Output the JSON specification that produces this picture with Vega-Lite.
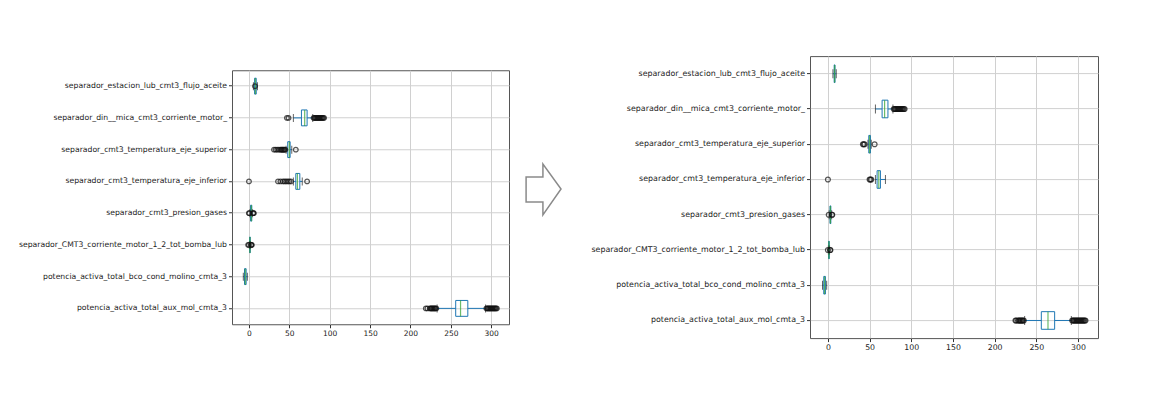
{
  "$schema": "https://vega.github.io/schema/vega-lite/v6.json",
  "autosize": {"type": "pad"},
  "padding": {"left": 15, "top": 55, "right": 5, "bottom": 5},
  "background": "white",
  "spacing": 4,
  "center": true,
  "config": {
    "font": "DejaVu Sans",
    "view": {"stroke": "#555", "strokeWidth": 1},
    "axis": {
      "labelColor": "#222",
      "tickColor": "#333",
      "tickSize": 3.5,
      "labelPadding": 2,
      "domain": false,
      "grid": true,
      "gridColor": "#d0d0d0",
      "gridWidth": 1,
      "title": null
    }
  },
  "datasets": {
    "left_stats": [
      {"variable": "separador_estacion_lub_cmt3_flujo_aceite", "lower": 5.5, "q1": 7, "median": 8, "q3": 9, "upper": 10.5},
      {"variable": "separador_din__mica_cmt3_corriente_motor_", "lower": 55, "q1": 65, "median": 69, "q3": 72, "upper": 79},
      {"variable": "separador_cmt3_temperatura_eje_superior", "lower": 46, "q1": 48, "median": 50, "q3": 51, "upper": 53},
      {"variable": "separador_cmt3_temperatura_eje_inferior", "lower": 55, "q1": 58, "median": 60, "q3": 63, "upper": 66},
      {"variable": "separador_cmt3_presion_gases", "lower": 1, "q1": 2, "median": 3, "q3": 3.5, "upper": 4.5},
      {"variable": "separador_CMT3_corriente_motor_1_2_tot_bomba_lub", "lower": 0.5, "q1": 1, "median": 1.2, "q3": 1.5, "upper": 2},
      {"variable": "potencia_activa_total_bco_cond_molino_cmta_3", "lower": -7, "q1": -5.5, "median": -4.5, "q3": -3.5, "upper": -2},
      {"variable": "potencia_activa_total_aux_mol_cmta_3", "lower": 233, "q1": 256, "median": 262, "q3": 271, "upper": 293}
    ],
    "left_out": [
      {"variable": "separador_estacion_lub_cmt3_flujo_aceite", "value": 7.5},
      {"variable": "separador_din__mica_cmt3_corriente_motor_", "value": 47},
      {"variable": "separador_din__mica_cmt3_corriente_motor_", "value": 49},
      {"variable": "separador_din__mica_cmt3_corriente_motor_", "value": 80},
      {"variable": "separador_din__mica_cmt3_corriente_motor_", "value": 81},
      {"variable": "separador_din__mica_cmt3_corriente_motor_", "value": 82},
      {"variable": "separador_din__mica_cmt3_corriente_motor_", "value": 83},
      {"variable": "separador_din__mica_cmt3_corriente_motor_", "value": 84},
      {"variable": "separador_din__mica_cmt3_corriente_motor_", "value": 85},
      {"variable": "separador_din__mica_cmt3_corriente_motor_", "value": 86},
      {"variable": "separador_din__mica_cmt3_corriente_motor_", "value": 87},
      {"variable": "separador_din__mica_cmt3_corriente_motor_", "value": 88},
      {"variable": "separador_din__mica_cmt3_corriente_motor_", "value": 89},
      {"variable": "separador_din__mica_cmt3_corriente_motor_", "value": 90},
      {"variable": "separador_din__mica_cmt3_corriente_motor_", "value": 91},
      {"variable": "separador_din__mica_cmt3_corriente_motor_", "value": 92},
      {"variable": "separador_din__mica_cmt3_corriente_motor_", "value": 93},
      {"variable": "separador_cmt3_temperatura_eje_superior", "value": 31},
      {"variable": "separador_cmt3_temperatura_eje_superior", "value": 33},
      {"variable": "separador_cmt3_temperatura_eje_superior", "value": 35},
      {"variable": "separador_cmt3_temperatura_eje_superior", "value": 37},
      {"variable": "separador_cmt3_temperatura_eje_superior", "value": 39},
      {"variable": "separador_cmt3_temperatura_eje_superior", "value": 40},
      {"variable": "separador_cmt3_temperatura_eje_superior", "value": 41},
      {"variable": "separador_cmt3_temperatura_eje_superior", "value": 42},
      {"variable": "separador_cmt3_temperatura_eje_superior", "value": 43},
      {"variable": "separador_cmt3_temperatura_eje_superior", "value": 44},
      {"variable": "separador_cmt3_temperatura_eje_superior", "value": 45},
      {"variable": "separador_cmt3_temperatura_eje_superior", "value": 58},
      {"variable": "separador_cmt3_temperatura_eje_inferior", "value": 0},
      {"variable": "separador_cmt3_temperatura_eje_inferior", "value": 36},
      {"variable": "separador_cmt3_temperatura_eje_inferior", "value": 39},
      {"variable": "separador_cmt3_temperatura_eje_inferior", "value": 42},
      {"variable": "separador_cmt3_temperatura_eje_inferior", "value": 44},
      {"variable": "separador_cmt3_temperatura_eje_inferior", "value": 46},
      {"variable": "separador_cmt3_temperatura_eje_inferior", "value": 48},
      {"variable": "separador_cmt3_temperatura_eje_inferior", "value": 50},
      {"variable": "separador_cmt3_temperatura_eje_inferior", "value": 52},
      {"variable": "separador_cmt3_temperatura_eje_inferior", "value": 72},
      {"variable": "separador_cmt3_presion_gases", "value": 0},
      {"variable": "separador_cmt3_presion_gases", "value": 0.5},
      {"variable": "separador_cmt3_presion_gases", "value": 5},
      {"variable": "separador_cmt3_presion_gases", "value": 5.5},
      {"variable": "separador_cmt3_presion_gases", "value": 6},
      {"variable": "separador_CMT3_corriente_motor_1_2_tot_bomba_lub", "value": -1},
      {"variable": "separador_CMT3_corriente_motor_1_2_tot_bomba_lub", "value": 0},
      {"variable": "separador_CMT3_corriente_motor_1_2_tot_bomba_lub", "value": 2.5},
      {"variable": "separador_CMT3_corriente_motor_1_2_tot_bomba_lub", "value": 3},
      {"variable": "separador_CMT3_corriente_motor_1_2_tot_bomba_lub", "value": 3.5},
      {"variable": "potencia_activa_total_aux_mol_cmta_3", "value": 219},
      {"variable": "potencia_activa_total_aux_mol_cmta_3", "value": 221},
      {"variable": "potencia_activa_total_aux_mol_cmta_3", "value": 224},
      {"variable": "potencia_activa_total_aux_mol_cmta_3", "value": 225},
      {"variable": "potencia_activa_total_aux_mol_cmta_3", "value": 226},
      {"variable": "potencia_activa_total_aux_mol_cmta_3", "value": 227},
      {"variable": "potencia_activa_total_aux_mol_cmta_3", "value": 228},
      {"variable": "potencia_activa_total_aux_mol_cmta_3", "value": 229},
      {"variable": "potencia_activa_total_aux_mol_cmta_3", "value": 230},
      {"variable": "potencia_activa_total_aux_mol_cmta_3", "value": 231},
      {"variable": "potencia_activa_total_aux_mol_cmta_3", "value": 232},
      {"variable": "potencia_activa_total_aux_mol_cmta_3", "value": 294},
      {"variable": "potencia_activa_total_aux_mol_cmta_3", "value": 295},
      {"variable": "potencia_activa_total_aux_mol_cmta_3", "value": 296},
      {"variable": "potencia_activa_total_aux_mol_cmta_3", "value": 297},
      {"variable": "potencia_activa_total_aux_mol_cmta_3", "value": 298},
      {"variable": "potencia_activa_total_aux_mol_cmta_3", "value": 299},
      {"variable": "potencia_activa_total_aux_mol_cmta_3", "value": 300},
      {"variable": "potencia_activa_total_aux_mol_cmta_3", "value": 301},
      {"variable": "potencia_activa_total_aux_mol_cmta_3", "value": 302},
      {"variable": "potencia_activa_total_aux_mol_cmta_3", "value": 303},
      {"variable": "potencia_activa_total_aux_mol_cmta_3", "value": 304},
      {"variable": "potencia_activa_total_aux_mol_cmta_3", "value": 305},
      {"variable": "potencia_activa_total_aux_mol_cmta_3", "value": 306},
      {"variable": "potencia_activa_total_aux_mol_cmta_3", "value": 307}
    ],
    "right_stats": [
      {"variable": "separador_estacion_lub_cmt3_flujo_aceite", "lower": 6, "q1": 7.5, "median": 8, "q3": 8.5, "upper": 10},
      {"variable": "separador_din__mica_cmt3_corriente_motor_", "lower": 57, "q1": 65, "median": 68, "q3": 72, "upper": 78},
      {"variable": "separador_cmt3_temperatura_eje_superior", "lower": 48, "q1": 49, "median": 50, "q3": 51, "upper": 52},
      {"variable": "separador_cmt3_temperatura_eje_inferior", "lower": 57, "q1": 59, "median": 61, "q3": 63, "upper": 69},
      {"variable": "separador_cmt3_presion_gases", "lower": 1.5, "q1": 2.5, "median": 3, "q3": 3.5, "upper": 4.5},
      {"variable": "separador_CMT3_corriente_motor_1_2_tot_bomba_lub", "lower": 0.5, "q1": 1, "median": 1.2, "q3": 1.5, "upper": 2},
      {"variable": "potencia_activa_total_bco_cond_molino_cmta_3", "lower": -6.5, "q1": -5, "median": -4, "q3": -3, "upper": -1.5},
      {"variable": "potencia_activa_total_aux_mol_cmta_3", "lower": 236, "q1": 256, "median": 264, "q3": 272, "upper": 292}
    ],
    "right_out": [
      {"variable": "separador_din__mica_cmt3_corriente_motor_", "value": 79},
      {"variable": "separador_din__mica_cmt3_corriente_motor_", "value": 80},
      {"variable": "separador_din__mica_cmt3_corriente_motor_", "value": 81},
      {"variable": "separador_din__mica_cmt3_corriente_motor_", "value": 82},
      {"variable": "separador_din__mica_cmt3_corriente_motor_", "value": 83},
      {"variable": "separador_din__mica_cmt3_corriente_motor_", "value": 84},
      {"variable": "separador_din__mica_cmt3_corriente_motor_", "value": 85},
      {"variable": "separador_din__mica_cmt3_corriente_motor_", "value": 86},
      {"variable": "separador_din__mica_cmt3_corriente_motor_", "value": 87},
      {"variable": "separador_din__mica_cmt3_corriente_motor_", "value": 88},
      {"variable": "separador_din__mica_cmt3_corriente_motor_", "value": 89},
      {"variable": "separador_din__mica_cmt3_corriente_motor_", "value": 90},
      {"variable": "separador_din__mica_cmt3_corriente_motor_", "value": 91},
      {"variable": "separador_din__mica_cmt3_corriente_motor_", "value": 92},
      {"variable": "separador_cmt3_temperatura_eje_superior", "value": 42},
      {"variable": "separador_cmt3_temperatura_eje_superior", "value": 43},
      {"variable": "separador_cmt3_temperatura_eje_superior", "value": 44},
      {"variable": "separador_cmt3_temperatura_eje_superior", "value": 56},
      {"variable": "separador_cmt3_temperatura_eje_inferior", "value": 0},
      {"variable": "separador_cmt3_temperatura_eje_inferior", "value": 50},
      {"variable": "separador_cmt3_temperatura_eje_inferior", "value": 51},
      {"variable": "separador_cmt3_temperatura_eje_inferior", "value": 52},
      {"variable": "separador_cmt3_presion_gases", "value": 1},
      {"variable": "separador_cmt3_presion_gases", "value": 4.8},
      {"variable": "separador_cmt3_presion_gases", "value": 5.2},
      {"variable": "separador_CMT3_corriente_motor_1_2_tot_bomba_lub", "value": 0},
      {"variable": "separador_CMT3_corriente_motor_1_2_tot_bomba_lub", "value": 2.5},
      {"variable": "separador_CMT3_corriente_motor_1_2_tot_bomba_lub", "value": 3},
      {"variable": "potencia_activa_total_aux_mol_cmta_3", "value": 225},
      {"variable": "potencia_activa_total_aux_mol_cmta_3", "value": 226},
      {"variable": "potencia_activa_total_aux_mol_cmta_3", "value": 228},
      {"variable": "potencia_activa_total_aux_mol_cmta_3", "value": 229},
      {"variable": "potencia_activa_total_aux_mol_cmta_3", "value": 230},
      {"variable": "potencia_activa_total_aux_mol_cmta_3", "value": 231},
      {"variable": "potencia_activa_total_aux_mol_cmta_3", "value": 232},
      {"variable": "potencia_activa_total_aux_mol_cmta_3", "value": 233},
      {"variable": "potencia_activa_total_aux_mol_cmta_3", "value": 234},
      {"variable": "potencia_activa_total_aux_mol_cmta_3", "value": 235},
      {"variable": "potencia_activa_total_aux_mol_cmta_3", "value": 293},
      {"variable": "potencia_activa_total_aux_mol_cmta_3", "value": 294},
      {"variable": "potencia_activa_total_aux_mol_cmta_3", "value": 295},
      {"variable": "potencia_activa_total_aux_mol_cmta_3", "value": 296},
      {"variable": "potencia_activa_total_aux_mol_cmta_3", "value": 297},
      {"variable": "potencia_activa_total_aux_mol_cmta_3", "value": 298},
      {"variable": "potencia_activa_total_aux_mol_cmta_3", "value": 299},
      {"variable": "potencia_activa_total_aux_mol_cmta_3", "value": 300},
      {"variable": "potencia_activa_total_aux_mol_cmta_3", "value": 301},
      {"variable": "potencia_activa_total_aux_mol_cmta_3", "value": 302},
      {"variable": "potencia_activa_total_aux_mol_cmta_3", "value": 303},
      {"variable": "potencia_activa_total_aux_mol_cmta_3", "value": 304},
      {"variable": "potencia_activa_total_aux_mol_cmta_3", "value": 305},
      {"variable": "potencia_activa_total_aux_mol_cmta_3", "value": 306},
      {"variable": "potencia_activa_total_aux_mol_cmta_3", "value": 307},
      {"variable": "potencia_activa_total_aux_mol_cmta_3", "value": 308},
      {"variable": "potencia_activa_total_aux_mol_cmta_3", "value": 309}
    ],
    "arrow": [{"symbol": "arrow"}]
  },
  "hconcat": [
    {
      "width": 277,
      "height": 254,
      "encoding": {
        "y": {
          "field": "variable", "type": "nominal",
          "scale": {"domain": ["separador_estacion_lub_cmt3_flujo_aceite", "separador_din__mica_cmt3_corriente_motor_", "separador_cmt3_temperatura_eje_superior", "separador_cmt3_temperatura_eje_inferior", "separador_cmt3_presion_gases", "separador_CMT3_corriente_motor_1_2_tot_bomba_lub", "potencia_activa_total_bco_cond_molino_cmta_3", "potencia_activa_total_aux_mol_cmta_3"], "paddingInner": 0, "paddingOuter": 0},
          "axis": {"bandPosition": 0.5, "grid": true, "labelFontSize": 7.7, "labelLimit": 0, "minExtent": 216, "maxExtent": 216}
        }
      },
      "layer": [
        {
          "data": {"name": "left_stats"},
          "mark": {"type": "rule", "color": "#1f77b4", "strokeWidth": 1},
          "encoding": {
            "x": {"field": "lower", "type": "quantitative", "scale": {"domain": [-21, 322], "nice": false, "zero": false}, "axis": {"values": [0, 50, 100, 150, 200, 250, 300], "labelFontSize": 7.5}},
            "x2": {"field": "q1"}
          }
        },
        {
          "data": {"name": "left_stats"},
          "mark": {"type": "rule", "color": "#1f77b4", "strokeWidth": 1},
          "encoding": {"x": {"field": "q3", "type": "quantitative"}, "x2": {"field": "upper"}}
        },
        {
          "data": {"name": "left_stats"},
          "mark": {"type": "bar", "fill": null, "fillOpacity": 0, "stroke": "#1f77b4", "strokeWidth": 1, "height": {"band": 0.5}},
          "encoding": {"x": {"field": "q1", "type": "quantitative"}, "x2": {"field": "q3"}}
        },
        {
          "data": {"name": "left_stats"},
          "mark": {"type": "tick", "orient": "vertical", "color": "#222", "size": 8, "thickness": 1},
          "encoding": {"x": {"field": "lower", "type": "quantitative"}}
        },
        {
          "data": {"name": "left_stats"},
          "mark": {"type": "tick", "orient": "vertical", "color": "#222", "size": 8, "thickness": 1},
          "encoding": {"x": {"field": "upper", "type": "quantitative"}}
        },
        {
          "data": {"name": "left_stats"},
          "mark": {"type": "tick", "orient": "vertical", "color": "#2ca02c", "size": 16, "thickness": 1.2},
          "encoding": {"x": {"field": "median", "type": "quantitative"}}
        },
        {
          "data": {"name": "left_out"},
          "mark": {"type": "point", "shape": "circle", "filled": false, "stroke": "#111", "strokeWidth": 1.2, "size": 22},
          "encoding": {"x": {"field": "value", "type": "quantitative"}}
        }
      ]
    },
    {
      "width": 66,
      "height": 50,
      "view": {"stroke": null},
      "data": {"name": "arrow"},
      "mark": {"type": "point", "shape": "M-0.82,-1.06 L-0.16,-1.06 L-0.16,-1.57 L0.55,-0.59 L-0.16,0.43 L-0.16,-0.08 L-0.82,-0.08 Z", "size": 2601, "filled": true, "fill": "white", "stroke": "#8a8a8a", "strokeWidth": 1.5, "opacity": 1},
      "encoding": {}
    },
    {
      "width": 288,
      "height": 282,
      "encoding": {
        "y": {
          "field": "variable", "type": "nominal",
          "scale": {"domain": ["separador_estacion_lub_cmt3_flujo_aceite", "separador_din__mica_cmt3_corriente_motor_", "separador_cmt3_temperatura_eje_superior", "separador_cmt3_temperatura_eje_inferior", "separador_cmt3_presion_gases", "separador_CMT3_corriente_motor_1_2_tot_bomba_lub", "potencia_activa_total_bco_cond_molino_cmta_3", "potencia_activa_total_aux_mol_cmta_3"], "paddingInner": 0, "paddingOuter": 0},
          "axis": {"bandPosition": 0.5, "grid": true, "labelFontSize": 7.9, "labelLimit": 0, "minExtent": 225, "maxExtent": 225}
        }
      },
      "layer": [
        {
          "data": {"name": "right_stats"},
          "mark": {"type": "rule", "color": "#1f77b4", "strokeWidth": 1},
          "encoding": {
            "x": {"field": "lower", "type": "quantitative", "scale": {"domain": [-21.5, 324], "nice": false, "zero": false}, "axis": {"values": [0, 50, 100, 150, 200, 250, 300], "labelFontSize": 7.8}},
            "x2": {"field": "q1"}
          }
        },
        {
          "data": {"name": "right_stats"},
          "mark": {"type": "rule", "color": "#1f77b4", "strokeWidth": 1},
          "encoding": {"x": {"field": "q3", "type": "quantitative"}, "x2": {"field": "upper"}}
        },
        {
          "data": {"name": "right_stats"},
          "mark": {"type": "bar", "fill": null, "fillOpacity": 0, "stroke": "#1f77b4", "strokeWidth": 1, "height": {"band": 0.5}},
          "encoding": {"x": {"field": "q1", "type": "quantitative"}, "x2": {"field": "q3"}}
        },
        {
          "data": {"name": "right_stats"},
          "mark": {"type": "tick", "orient": "vertical", "color": "#222", "size": 9, "thickness": 1},
          "encoding": {"x": {"field": "lower", "type": "quantitative"}}
        },
        {
          "data": {"name": "right_stats"},
          "mark": {"type": "tick", "orient": "vertical", "color": "#222", "size": 9, "thickness": 1},
          "encoding": {"x": {"field": "upper", "type": "quantitative"}}
        },
        {
          "data": {"name": "right_stats"},
          "mark": {"type": "tick", "orient": "vertical", "color": "#2ca02c", "size": 17.5, "thickness": 1.2},
          "encoding": {"x": {"field": "median", "type": "quantitative"}}
        },
        {
          "data": {"name": "right_out"},
          "mark": {"type": "point", "shape": "circle", "filled": false, "stroke": "#111", "strokeWidth": 1.2, "size": 24},
          "encoding": {"x": {"field": "value", "type": "quantitative"}}
        }
      ]
    }
  ]
}
